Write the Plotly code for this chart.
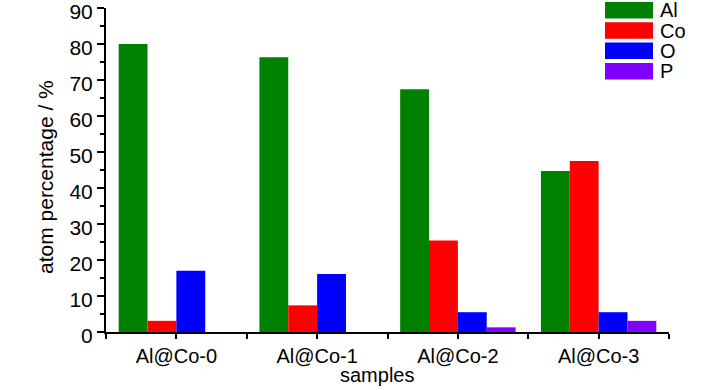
import plotly.graph_objects as go

samples = ["Al@Co-0", "Al@Co-1", "Al@Co-2", "Al@Co-3"]
elements = ["Al", "Co", "O", "P"]
al_vals = [80.0, 76.3, 67.4, 44.7]
co_vals = [3.1, 7.4, 25.4, 47.5]
o_vals = [17.0, 16.1, 5.5, 5.5]
p_vals = [0.0, 0.0, 1.3, 3.1]
colors = ["#008000", "#FF0000", "#0000FF", "#8000FF"]
y_ticks = [0, 10, 20, 30, 40, 50, 60, 70, 80, 90]

series = [al_vals, co_vals, o_vals, p_vals]
xpos = list(range(len(samples)))

FONT = "Liberation Sans, Arial, sans-serif"
L, R, T, B = 106, 59, 8, 58
W, H = 728, 390
PW, PH = W - L - R, H - T - B


def px_x(px):
    return (px - L) / PW


def px_y(py):
    return (H - B - py) / PH


fig = go.Figure()
for name, vals, col in zip(elements, series, colors):
    fig.add_trace(go.Bar(x=xpos, y=vals, name=name, marker=dict(color=col, line=dict(width=0)),
                         showlegend=False))

tickvals = []
ticktext = []
for i in range(len(samples)):
    tickvals += [i - 0.5, i]
    ticktext += ["", samples[i]]
tickvals.append(len(samples) - 0.5)
ticktext.append("")

fig.update_layout(
    width=W, height=H,
    margin=dict(l=L, r=R, t=T, b=B),
    paper_bgcolor="white", plot_bgcolor="white",
    barmode="group", bargap=0.18, bargroupgap=0,
    font=dict(family=FONT, size=20, color="black"),
    xaxis=dict(range=[-0.5, len(samples) - 0.5], tickvals=tickvals, ticktext=ticktext,
               ticks="outside", ticklen=5, tickwidth=2, tickcolor="black",
               showline=True, linecolor="black", linewidth=2, showgrid=False, zeroline=False,
               tickfont=dict(size=20), automargin=False, ticklabeloverflow="allow"),
    yaxis=dict(range=[0, 90], tickvals=y_ticks, ticks="outside", ticklen=7, tickwidth=2,
               tickcolor="black", showline=True, linecolor="black", linewidth=2,
               showgrid=False, zeroline=False, tickfont=dict(size=21), automargin=False,
               ticklabeloverflow="allow", ticklabelshift=4,
               minor=dict(tickvals=[v + 5 for v in y_ticks[:-1]], ticks="outside", ticklen=4,
                          tickwidth=2, tickcolor="black", showgrid=False)),
)

# axis titles
fig.add_annotation(xref="paper", yref="paper", x=px_x(377), y=px_y(375), text="samples",
                   showarrow=False, xanchor="center", yanchor="middle",
                   font=dict(size=20, family=FONT, color="black"))
fig.add_annotation(xref="paper", yref="paper", x=px_x(45), y=px_y(177),
                   text="atom percentage / %", textangle=-90, showarrow=False,
                   xanchor="center", yanchor="middle",
                   font=dict(size=21, family=FONT, color="black"))

# custom legend with wide swatches
for k, (name, col) in enumerate(zip(elements, colors)):
    top = 2 + k * 20.3
    bot = top + 16.5
    fig.add_shape(type="rect", xref="paper", yref="paper",
                  x0=px_x(605), x1=px_x(653), y0=px_y(bot), y1=px_y(top),
                  fillcolor=col, line=dict(width=0), layer="above")
    fig.add_annotation(xref="paper", yref="paper", x=px_x(658), y=px_y((top + bot) / 2),
                       text=name, showarrow=False, xanchor="left", yanchor="middle",
                       height=20, font=dict(size=20, family=FONT, color="black"))

fig.write_html("out.html", config={"displayModeBar": False},
               post_script="document.body.style.margin='0';document.body.style.overflow='hidden';")
